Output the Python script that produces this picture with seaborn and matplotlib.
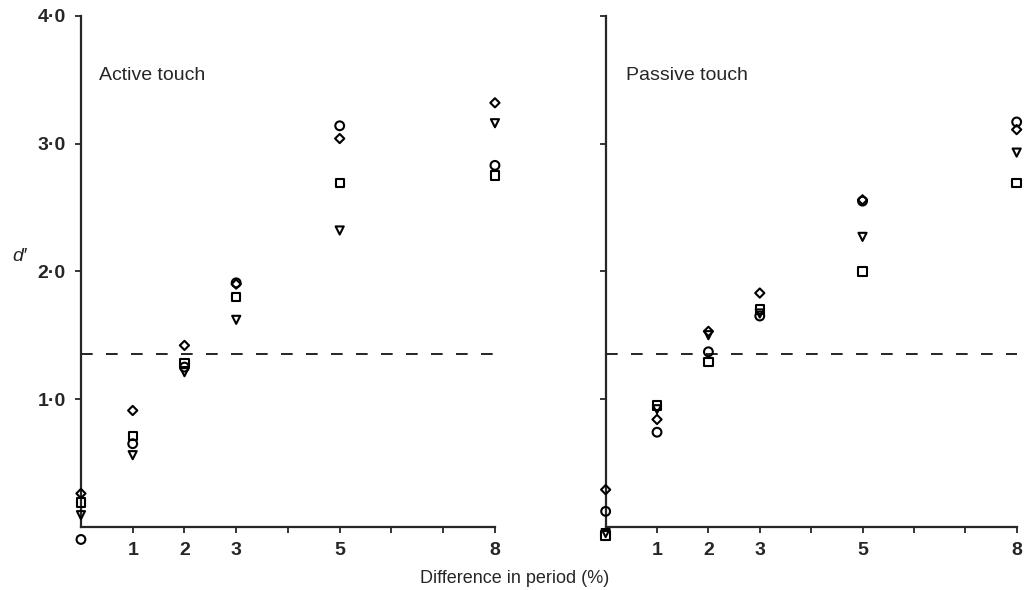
import matplotlib
matplotlib.use("Agg")
import matplotlib.pyplot as plt
import seaborn as sns
import pandas as pd

# Difference in period (%) tested
periods = [0, 1, 2, 3, 5, 8]

# d' values per subject (marker) - active touch
active_circle = [-0.10, 0.65, 1.25, 1.91, 3.14, 2.83]
active_diamond = [0.26, 0.91, 1.42, 1.90, 3.04, 3.32]
active_square = [0.19, 0.71, 1.28, 1.80, 2.69, 2.75]
active_triangle = [0.09, 0.56, 1.21, 1.62, 2.32, 3.16]

# d' values per subject (marker) - passive touch
passive_circle = [0.12, 0.74, 1.37, 1.65, 2.55, 3.17]
passive_diamond = [0.29, 0.84, 1.53, 1.83, 2.56, 3.11]
passive_square = [-0.07, 0.95, 1.29, 1.70, 2.00, 2.69]
passive_triangle = [-0.05, 0.92, 1.50, 1.67, 2.27, 2.93]

threshold = 1.35
subjects = ["circle", "diamond", "square", "triangle"]
xtick_vals = [1, 2, 3, 4, 5, 6, 7, 8]
xtick_labels = ["1", "2", "3", "", "5", "", "", "8"]
ytick_vals = [1, 2, 3, 4]
ytick_labels = ["1·0", "2·0", "3·0", "4·0"]


def to_frame(series):
    rows = []
    for subj, vals in zip(subjects, series):
        for p, v in zip(periods, vals):
            rows.append({"period": p, "d": v, "subject": subj})
    return pd.DataFrame(rows)


active = to_frame([active_circle, active_diamond, active_square, active_triangle])
passive = to_frame([passive_circle, passive_diamond, passive_square, passive_triangle])

sns.set_style("ticks")
plt.rcParams["font.family"] = ["Liberation Sans", "DejaVu Sans"]

marker_map = {"circle": "o", "diamond": "D", "square": "s", "triangle": "v"}
size_map = {"circle": 40, "diamond": 22, "square": 36, "triangle": 34}

fig = plt.figure(figsize=(10.26, 5.9), dpi=100)
ax1 = fig.add_axes([0.0789, 0.1073, 0.4035, 0.8656])
ax2 = fig.add_axes([0.5903, 0.1073, 0.4006, 0.8656])

for ax, df, title, tx in [(ax1, active, "Active touch", 0.35),
                          (ax2, passive, "Passive touch", 0.39)]:
    sns.scatterplot(data=df, x="period", y="d", style="subject", size="subject",
                    markers=marker_map, sizes=size_map, color="none",
                    edgecolor="black", linewidth=1.5, clip_on=False,
                    legend=False, ax=ax, zorder=3)
    for c in ax.collections:
        c.set_facecolor("none")
        c.set_edgecolor("black")
    ax.axhline(threshold, color="black", lw=1.2, ls=(0, (7, 8)))
    ax.set_xlim(0, 8)
    ax.set_ylim(0, 4)
    ax.set_xticks(xtick_vals)
    ax.set_xticklabels(xtick_labels, fontsize=14, fontweight="bold")
    ax.set_yticks(ytick_vals)
    ax.text(tx, 3.53, title, fontsize=14, va="center", ha="left")
    ax.set_xlabel("")
    ax.set_ylabel("")
    sns.despine(ax=ax)
    for s in ["left", "bottom"]:
        ax.spines[s].set_linewidth(1.6)
    ax.tick_params(direction="out", length=4, width=1.3, pad=7)

ax1.set_yticklabels(ytick_labels, fontsize=14, fontweight="bold")
ax2.set_yticklabels([])
ax1.set_ylabel("d′", rotation=0, fontsize=14, style="italic", ha="center", va="center")
ax1.yaxis.set_label_coords(-0.148, 0.53)

fig.text(0.502, 0.019, "Difference in period (%)", ha="center", va="center", fontsize=13)

fig.savefig("out.png", dpi=100, facecolor="white")
